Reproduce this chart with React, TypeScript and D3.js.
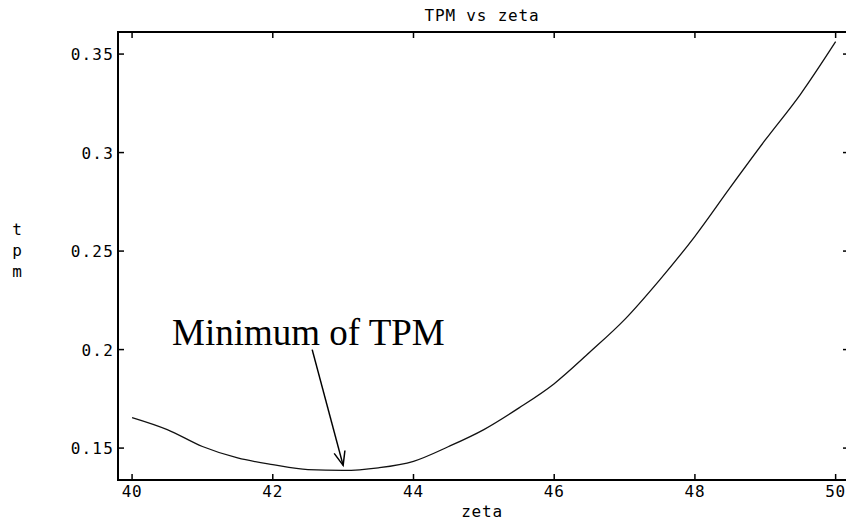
import React from 'react';
import * as d3 from 'd3';

// values
const zeta = [40, 40.5, 41, 41.5, 42, 42.5, 43, 43.5, 44, 44.5, 45, 45.5, 46, 46.5, 47, 47.5, 48, 48.5, 49, 49.5, 50];
const tpm = [0.1655, 0.1594, 0.1508, 0.145, 0.1416, 0.1391, 0.1387, 0.14, 0.1433, 0.1508, 0.1594, 0.1704, 0.1827, 0.1985, 0.2152, 0.2354, 0.2575, 0.2822, 0.3064, 0.3296, 0.3563];
const xTicks = [40, 42, 44, 46, 48, 50];
const yTicks = [0.15, 0.2, 0.25, 0.3, 0.35];
const yTickLabels = ['0.15', '0.2', '0.25', '0.3', '0.35'];
const title = 'TPM vs zeta';
const xLabel = 'zeta';
const yLabel = ['t', 'p', 'm'];
const note = 'Minimum of TPM';
const noteFrom = [42.56, 0.2];   // arrow tail (data units)
const noteTo = [43.0, 0.1412];   // arrow tip

const W = 846;
const H = 520;
const left = 118, right = 849, top = 32, bottom = 480;
const mono = '"DejaVu Sans Mono", monospace';

export default function App() {
  const x = d3.scaleLinear().domain([39.8, 50.19]).range([left, right]);
  const y = d3.scaleLinear().domain([0.1338, 0.3612]).range([bottom, top]);

  const line = d3.line<number>()
    .x((d, i) => x(zeta[i]))
    .y((d) => y(d))
    .curve(d3.curveMonotoneX);

  const tickLen = 6;

  // arrow
  const ax0 = x(noteFrom[0]), ay0 = y(noteFrom[1]);
  const ax1 = x(noteTo[0]), ay1 = y(noteTo[1]);
  const ang = Math.atan2(ay1 - ay0, ax1 - ax0);
  const headLen = 15, headAng = 0.38;
  const w1 = [ax1 - headLen * Math.cos(ang - headAng), ay1 - headLen * Math.sin(ang - headAng)];
  const w2 = [ax1 - headLen * Math.cos(ang + headAng), ay1 - headLen * Math.sin(ang + headAng)];

  return (
    <svg width={W} height={H} style={{ position: 'absolute', left: 0, top: 0, background: '#fff' }}>
      <rect x={0} y={0} width={W} height={H} fill="#fff" />

      <text x={482} y={21} textAnchor="middle" fontFamily={mono} fontSize={16} letterSpacing={0.8} fill="#000">
        {title}
      </text>

      {/* frame */}
      <rect x={left} y={top} width={right - left} height={bottom - top} fill="none" stroke="#000" strokeWidth={2} />

      {xTicks.map((t) => (
        <g key={'x' + t}>
          <line x1={x(t)} x2={x(t)} y1={bottom} y2={bottom - tickLen} stroke="#000" strokeWidth={1.5} />
          <line x1={x(t)} x2={x(t)} y1={top} y2={top + tickLen} stroke="#000" strokeWidth={1.5} />
          <text x={x(t)} y={497} textAnchor="middle" fontFamily={mono} fontSize={16} letterSpacing={0.8} fill="#000">
            {t}
          </text>
        </g>
      ))}

      {yTicks.map((t, i) => (
        <g key={'y' + t}>
          <line x1={left} x2={left + tickLen} y1={y(t)} y2={y(t)} stroke="#000" strokeWidth={1.5} />
          <line x1={right} x2={right - tickLen} y1={y(t)} y2={y(t)} stroke="#000" strokeWidth={1.5} />
          <text x={114} y={y(t) + 6} textAnchor="end" fontFamily={mono} fontSize={16} letterSpacing={1.2} fill="#000">
            {yTickLabels[i]}
          </text>
        </g>
      ))}

      <text x={482} y={517} textAnchor="middle" fontFamily={mono} fontSize={16} letterSpacing={0.8} fill="#000">
        {xLabel}
      </text>
      {yLabel.map((c, i) => (
        <text key={c} x={17} y={235 + i * 21} textAnchor="middle" fontFamily={mono} fontSize={16} fill="#000">
          {c}
        </text>
      ))}

      <path d={line(tpm) || ''} fill="none" stroke="#111" strokeWidth={1.3} />

      <text x={172} y={345} fontFamily='"Liberation Serif", serif' fontSize={37} fill="#000">
        {note}
      </text>
      <line x1={ax0} y1={ay0} x2={ax1} y2={ay1} stroke="#000" strokeWidth={1.5} />
      <polyline points={`${w1[0]},${w1[1]} ${ax1},${ay1} ${w2[0]},${w2[1]}`} fill="none" stroke="#000" strokeWidth={1.5} />
    </svg>
  );
}
